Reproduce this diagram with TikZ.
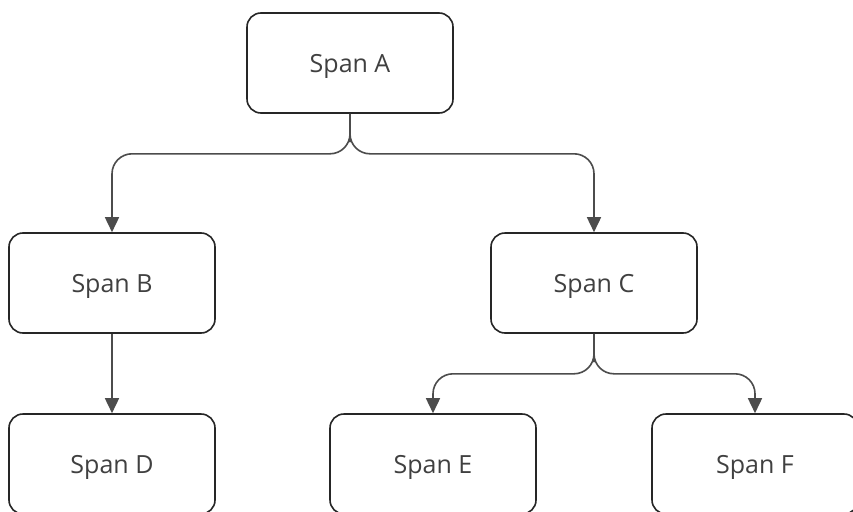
\documentclass[tikz,border=0pt]{standalone}
\usepackage{fontspec}
\setmainfont{Open Sans}
\usetikzlibrary{arrows.meta}
\begin{document}
\begin{tikzpicture}[x=1pt,y=-1pt,
  spanbox/.style={draw=black!85, line width=1.6pt, rounded corners=14pt, minimum width=206pt, minimum height=100pt, inner sep=0pt, text height=19pt, text depth=0pt, font=\fontsize{25}{30}\selectfont, text=black!75, fill=white},
  link/.style={draw=black!70, line width=1.6pt, rounded corners=20pt, -{Triangle[length=15pt,width=14pt]}}]
\clip (0,0) rectangle (853,511);
\fill[white] (0,0) rectangle (853,511);
\node[spanbox] (A) at (350,63) {Span A};
\node[spanbox] (B) at (112,283) {Span B};
\node[spanbox] (C) at (594,283) {Span C};
\node[spanbox] (D) at (112,464) {Span D};
\node[spanbox] (E) at (433,464) {Span E};
\node[spanbox] (F) at (755,464) {Span F};
\draw[link] (A.south) |- ++(0,40) -| (B.north);
\draw[link] (A.south) |- ++(0,40) -| (C.north);
\draw[link] (B.south) -- (D.north);
\draw[link] (C.south) |- ++(0,40) -| (E.north);
\draw[link] (C.south) |- ++(0,40) -| (F.north);
\end{tikzpicture}
\end{document}
